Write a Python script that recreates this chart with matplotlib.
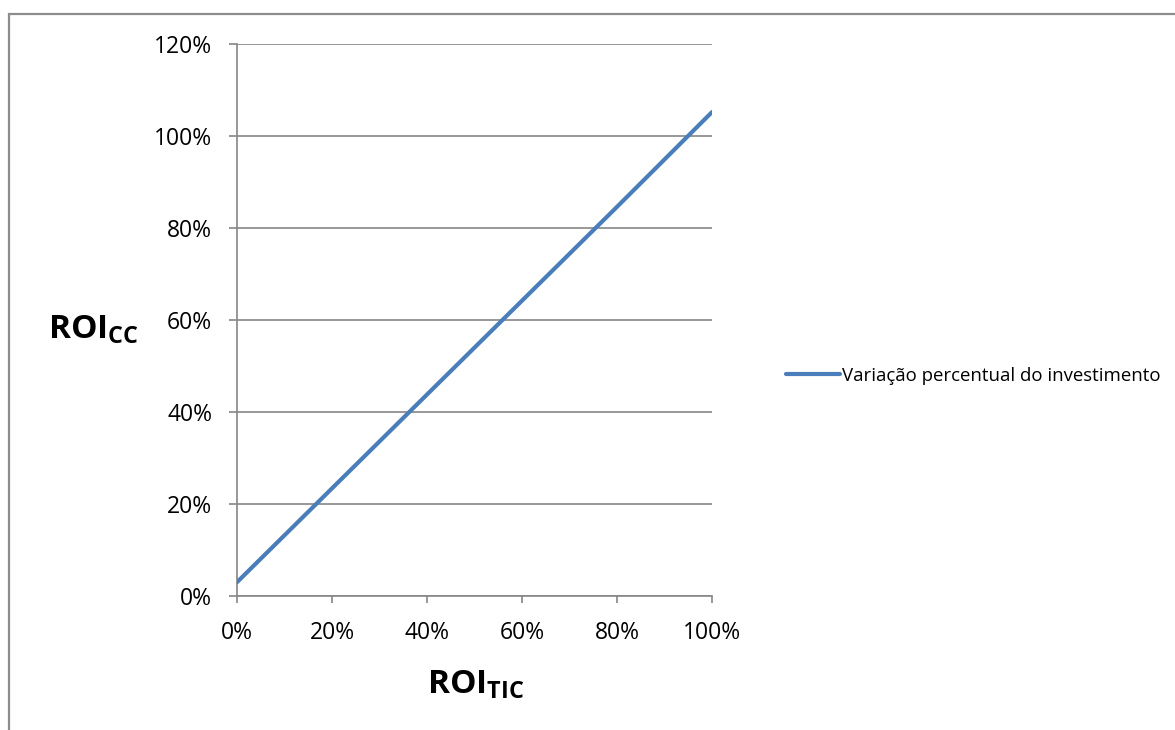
import matplotlib
matplotlib.use("Agg")
import matplotlib.pyplot as plt
from matplotlib.patches import Rectangle
from matplotlib.ticker import FuncFormatter

plt.rcParams['font.family'] = ['Open Sans', 'DejaVu Sans']
plt.rcParams['mathtext.fontset'] = 'custom'
plt.rcParams['mathtext.bf'] = 'Open Sans:bold'
plt.rcParams['mathtext.rm'] = 'Open Sans'

# ROI of ICT (x) versus ROI of the cost centre (y)
roi_tic = [0.0, 0.2, 0.4, 0.6, 0.8, 1.0]
roi_cc = [0.03, 0.234, 0.438, 0.642, 0.846, 1.052]
series_name = "Variação percentual do investimento"
x_ticks = [0.0, 0.2, 0.4, 0.6, 0.8, 1.0]
y_ticks = [0.0, 0.2, 0.4, 0.6, 0.8, 1.0, 1.2]

W, H = 1175, 730
fig = plt.figure(figsize=(W / 100, H / 100), dpi=100)

grid_c = '#868686'

# outer chart border
fig.patches.append(Rectangle((9 / W, -0.1), 1.2, 1 - 14 / H + 0.1,
                             transform=fig.transFigure, fill=False,
                             edgecolor='#8c8c8c', linewidth=1.6))

ax = fig.add_axes([237 / W, 1 - 596 / H, (712 - 237) / W, (596 - 44) / H])
ax.plot(roi_tic, roi_cc, color='#4a7ebb', linewidth=3.0,
        solid_capstyle='round', label=series_name, zorder=3)

ax.set_xlim(0, 1.0)
ax.set_ylim(0, 1.2)
ax.set_xticks(x_ticks)
ax.set_yticks(y_ticks)
pct = FuncFormatter(lambda v, _: f"{round(v * 100):d}%")
ax.xaxis.set_major_formatter(pct)
ax.yaxis.set_major_formatter(pct)
ax.tick_params(axis='both', labelsize=16.5, color=grid_c, width=1.2,
               direction='out')
ax.tick_params(axis='y', length=5.8, pad=12)
ax.tick_params(axis='x', length=5.0, pad=13)
ax.grid(axis='y', color=grid_c, linewidth=1.2)
ax.set_axisbelow(True)
for s in ('top', 'right'):
    ax.spines[s].set_visible(False)
for s in ('left', 'bottom'):
    ax.spines[s].set_color(grid_c)
    ax.spines[s].set_linewidth(1.2)

# axis titles with subscripts
fig.text(48 / W, 1 - 338 / H, r'$\mathbf{ROI}_{\mathbf{CC}}$', fontsize=24,
         ha='left', va='baseline')
fig.text(427 / W, 1 - 693 / H, r'$\mathbf{ROI}_{\mathbf{TIC}}$', fontsize=24,
         ha='left', va='baseline')

# legend
leg = fig.legend(loc='center left', bbox_to_anchor=(786 / W, 1 - 376 / H),
                 frameon=False, fontsize=13.4, handlelength=2.9,
                 handletextpad=0.12, borderaxespad=0, borderpad=0)

fig.savefig('out.png', dpi=100)
